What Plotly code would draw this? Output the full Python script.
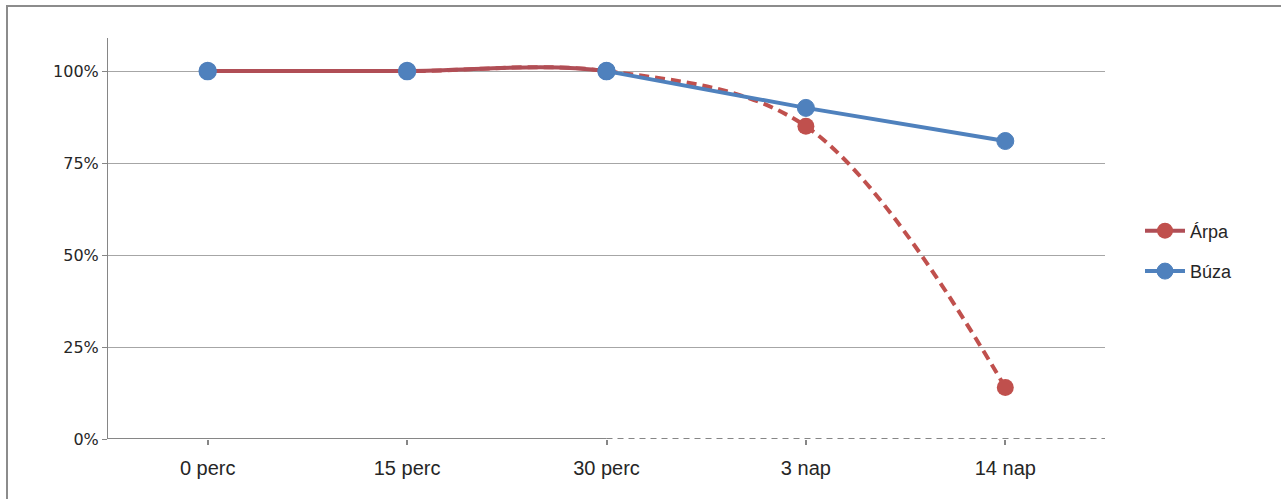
import plotly.graph_objects as go

categories = ["0 perc", "15 perc", "30 perc", "3 nap", "14 nap"]
arpa = [1.00, 1.00, 1.00, 0.85, 0.14]
buza = [1.00, 1.00, 1.00, 0.90, 0.81]
y_ticks = [0, 0.25, 0.5, 0.75, 1.0]

xs = list(range(len(categories)))
split = 2  # index of "30 perc" where styles change

RED = "#C0504D"
RED_SOLID = "#B04E56"
BLUE = "#4F81BD"
AXIS = "#868686"
GRID = "#A6A6A6"
MS = 17

fig = go.Figure()

# Árpa dashed (whole series, spline), main subplot
fig.add_trace(go.Scatter(
    x=xs, y=arpa, mode="lines+markers", name="Árpa", showlegend=False,
    line=dict(color=RED, width=4, dash="10px,6px", shape="spline", smoothing=1),
    marker=dict(color=RED, size=MS),
    xaxis="x", yaxis="y"))

# Búza line from 30 perc onwards
fig.add_trace(go.Scatter(
    x=xs[split:], y=buza[split:], mode="lines+markers", name="Búza",
    legendrank=2, legendgroup="b",
    line=dict(color=BLUE, width=4),
    marker=dict(color=BLUE, size=MS, line=dict(color=BLUE, width=1)),
    xaxis="x", yaxis="y"))

# Árpa solid part: same spline, clipped by a subplot covering 0..30 perc
fig.add_trace(go.Scatter(
    x=xs, y=arpa, mode="lines+markers", name="Árpa",
    legendrank=1, legendgroup="a",
    line=dict(color=RED_SOLID, width=4, shape="spline", smoothing=1),
    marker=dict(color=RED, size=MS),
    xaxis="x2", yaxis="y2"))

# Búza markers for the first points (on top of the red solid line)
fig.add_trace(go.Scatter(
    x=xs[:split + 1], y=buza[:split + 1], mode="markers", showlegend=False,
    marker=dict(color=BLUE, size=MS, line=dict(color=BLUE, width=1.5)),
    cliponaxis=False, xaxis="x2", yaxis="y2"))

W, H = 1281, 499
L, R, T, B = 108, 176, 38, 60
pw, ph = W - L - R, H - T - B

shapes = [
    # outer frame (left and top edges visible)
    dict(type="rect", xref="paper", yref="paper",
         x0=(7 - L) / pw, x1=1.3, y0=-0.3, y1=(H - B - 6) / ph,
         line=dict(color="#8C8C8C", width=2), fillcolor="rgba(0,0,0,0)", layer="below"),
    # x axis solid part
    dict(type="line", xref="x", yref="y", x0=-0.5, x1=split, y0=0, y1=0,
         line=dict(color=AXIS, width=2)),
    # x axis dashed part
    dict(type="line", xref="x", yref="y", x0=split, x1=4.55, y0=0, y1=0,
         line=dict(color=AXIS, width=2, dash="6px,5px")),
]

fig.update_layout(
    width=W, height=H,
    margin=dict(l=L, r=R, t=T, b=B),
    paper_bgcolor="white", plot_bgcolor="rgba(0,0,0,0)",
    shapes=shapes,
    showlegend=True,
    legend=dict(x=(1140 - L) / pw, y=(H - B - 251) / ph, xanchor="left", yanchor="middle",
                font=dict(family="Liberation Sans", size=18, color="#262626"),
                traceorder="grouped", tracegroupgap=14, itemwidth=40,
                bgcolor="rgba(0,0,0,0)"),
    xaxis=dict(domain=[0, 1], range=[-0.5, 4.5], tickmode="array",
               tickvals=xs, ticktext=categories, showgrid=False, zeroline=False,
               showline=False, ticks="outside", ticklen=5, tickwidth=2, tickcolor=AXIS,
               ticklabelstandoff=6,
               tickfont=dict(family="Liberation Sans", size=20, color="#262626"),
               anchor="y"),
    yaxis=dict(domain=[0, 1], range=[0, 1.09], tickmode="array", tickvals=y_ticks,
               tickformat=".0%", showgrid=True, gridcolor=GRID, gridwidth=1,
               zeroline=False, showline=True, linecolor=AXIS, linewidth=1,
               ticks="outside", ticklen=5, tickcolor=AXIS,
               tickfont=dict(family="DejaVu Sans", size=16, color="#262626"),
               anchor="x"),
    xaxis2=dict(domain=[0, (split + 0.5) / 5], range=[-0.5, split], visible=False,
                anchor="y2", fixedrange=True),
    yaxis2=dict(domain=[0, 1], range=[0, 1.09], visible=False, anchor="x2",
                fixedrange=True),
)

fig.write_html("out.html")
